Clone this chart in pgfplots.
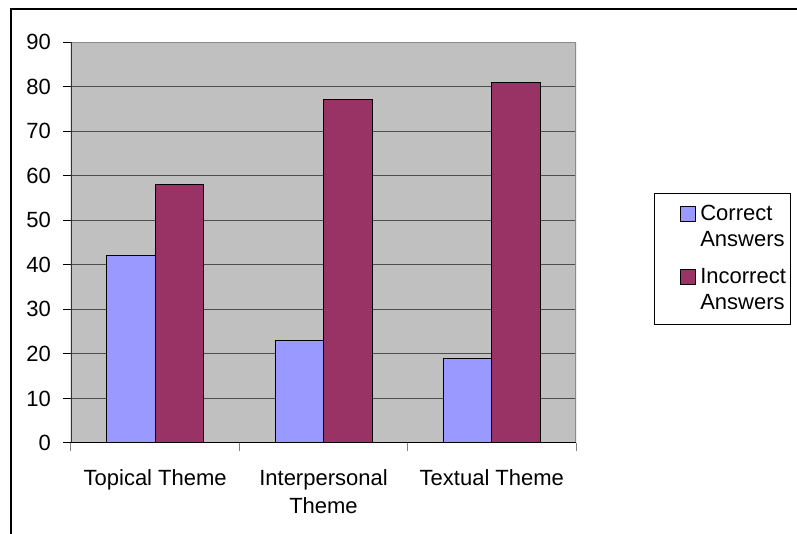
\documentclass[border=0pt]{standalone}
\usepackage{pgfplots}
\pgfplotsset{compat=1.18}
\usepackage{fontspec}
\setmainfont{Liberation Sans}
\definecolor{correct}{HTML}{9999FF}
\definecolor{incorrect}{HTML}{993366}
\definecolor{plotbg}{HTML}{C0C0C0}
\definecolor{gridc}{HTML}{4D4D4D}
\definecolor{framec}{HTML}{8A8A8A}
\begin{document}
\begin{tikzpicture}[x=0.5pt,y=0.5pt]
\useasboundingbox (-71,-91) rectangle (726,443);
% chart frame
\draw[line width=0.8pt,black] (-60,-120) -- (-60,434) -- (760,434);
\begin{axis}[
  at={(0,0)}, anchor=south west,
  scale only axis, width=252.5pt, height=200.5pt,
  xmin=-0.5, xmax=2.5, ymin=0, ymax=90,
  ytick={0,10,...,90},
  xtick={0,1,2},
  xticklabels={Topical Theme, Interpersonal\\Theme, Textual Theme},
  xticklabel style={align=center, font=\fontsize{11}{14}\selectfont, yshift=-5.5pt},
  yticklabel style={font=\fontsize{11}{14}\selectfont, xshift=-2.5pt},
  /pgf/number format/assume math mode=true,
  tick pos=left,
  x tick style={draw=none},
  y tick style={draw=black, line width=0.5pt},
  tick align=outside, major tick length=4pt,
  extra x ticks={-0.5,0.5,1.5,2.5}, extra x tick labels={},
  extra x tick style={x tick style={draw=gray, line width=0.5pt}, major tick length=4pt, grid=none},
  ymajorgrids, grid style={gridc, line width=0.5pt},
  axis line style={draw=none},
  axis background/.style={fill=plotbg},
  ybar=0pt, bar width=24.25pt,
  legend style={at={(1.1545,0.6234)}, anchor=north west, draw=black, line width=0.5pt,
    fill=white, font=\fontsize{11}{13}\selectfont, cells={align=left, anchor=west},
    inner xsep=0.4pt, inner ysep=3.8pt, row sep=5.5pt},
  legend image code/.code={\path (-12.5pt,3pt);
    \draw[#1, line width=0.5pt] (0pt,3pt) rectangle (7.5pt,10.5pt);},
]
\addplot[fill=correct, draw=black, line width=0.5pt] coordinates {(0,42) (1,23) (2,19)};
\addplot[fill=incorrect, draw=black, line width=0.5pt] coordinates {(0,58) (1,77) (2,81)};
\legend{Correct\\Answers, Incorrect\\Answers}
\draw[framec, line width=0.8pt] (rel axis cs:0,1) -- (rel axis cs:1,1) -- (rel axis cs:1,0);
\draw[black!80, line width=0.9pt] (rel axis cs:0,0) -- (rel axis cs:0,1);
\draw[black, line width=0.6pt] (rel axis cs:0,0) -- (rel axis cs:1,0);
\end{axis}
\end{tikzpicture}
\end{document}
